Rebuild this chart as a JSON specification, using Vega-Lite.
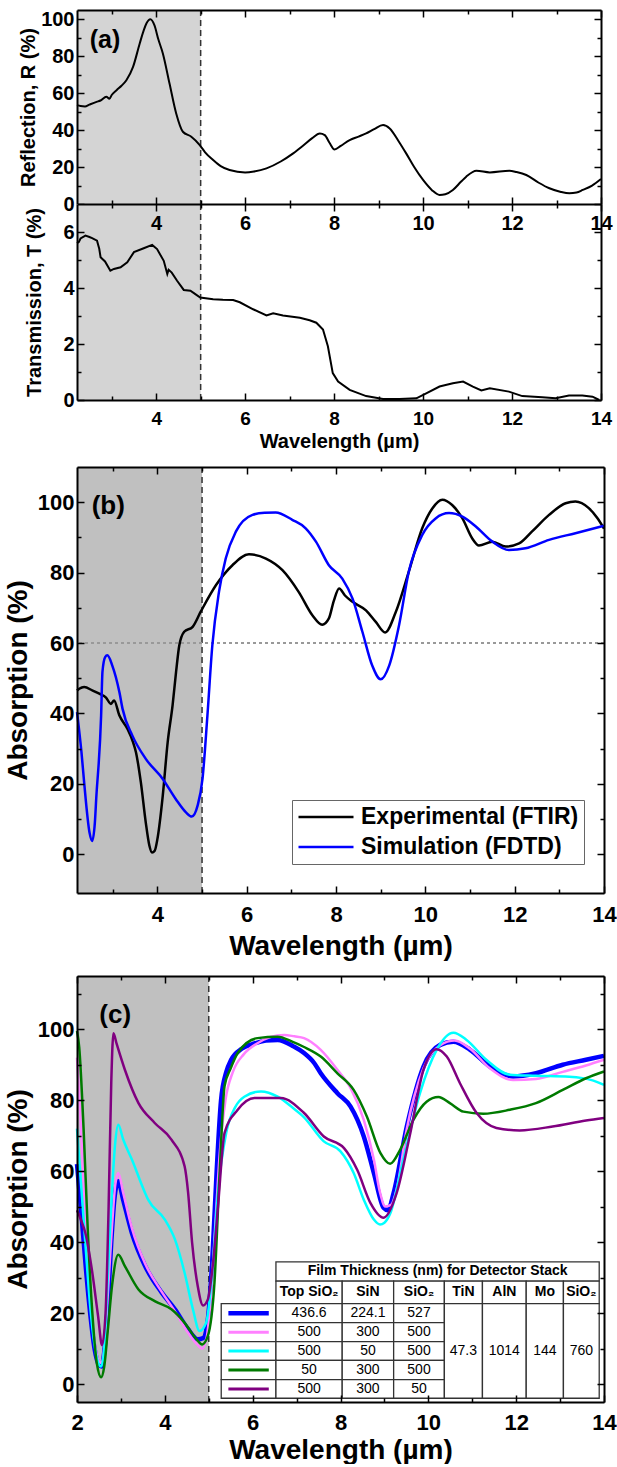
{
  "$schema": "https://vega.github.io/schema/vega-lite/v6.json",
  "background": "white",
  "padding": {"left": 4, "top": 9, "right": 0, "bottom": 0},
  "spacing": 15,
  "config": {
    "font": "Liberation Sans",
    "view": {"stroke": null},
    "axis": {"domain": true, "domainColor": "black", "domainWidth": 2, "tickColor": "black", "tickWidth": 1.5, "grid": false, "labelColor": "black", "labelFontWeight": "bold", "titleColor": "black", "titleFontWeight": "bold", "labelFlush": false, "labelOverlap": false}
  },
  "resolve": {"scale": {"color": "independent", "strokeWidth": "independent"}, "legend": {"color": "independent"}},
  "datasets": {
    "refl": [
      {"w":2.22,"v":53.5},{"w":2.3,"v":53},{"w":2.4,"v":52.8},{"w":2.5,"v":53.8},{"w":2.66,"v":55.3},{"w":2.75,"v":56},{"w":2.88,"v":58},{"w":2.95,"v":57},{"w":3.0,"v":59},{"w":3.11,"v":61.6},{"w":3.22,"v":64},{"w":3.33,"v":67},{"w":3.48,"v":74.2},{"w":3.63,"v":86.9},{"w":3.72,"v":94},{"w":3.78,"v":97.7},{"w":3.87,"v":100},{"w":3.96,"v":96.8},{"w":4.05,"v":89},{"w":4.15,"v":81.5},{"w":4.3,"v":65.2},{"w":4.45,"v":49},{"w":4.6,"v":39.1},{"w":4.79,"v":36.4},{"w":4.98,"v":31.9},{"w":5.1,"v":28},{"w":5.28,"v":23.8},{"w":5.45,"v":20.5},{"w":5.65,"v":18.4},{"w":6.0,"v":17.1},{"w":6.2,"v":17.6},{"w":6.48,"v":19.3},{"w":6.8,"v":23},{"w":7.08,"v":27.4},{"w":7.3,"v":31.5},{"w":7.5,"v":35.5},{"w":7.68,"v":38.2},{"w":7.79,"v":37.3},{"w":7.9,"v":33},{"w":8.01,"v":29.5},{"w":8.15,"v":31.5},{"w":8.35,"v":34.6},{"w":8.55,"v":36.5},{"w":8.72,"v":38.2},{"w":8.9,"v":40.5},{"w":9.1,"v":42.7},{"w":9.25,"v":40.9},{"w":9.45,"v":34},{"w":9.62,"v":27.4},{"w":9.8,"v":20},{"w":10.0,"v":13},{"w":10.2,"v":7.5},{"w":10.37,"v":4.9},{"w":10.5,"v":5.3},{"w":10.67,"v":7.6},{"w":10.85,"v":12},{"w":10.97,"v":14.8},{"w":11.2,"v":18},{"w":11.5,"v":17.1},{"w":11.94,"v":18},{"w":12.1,"v":17.3},{"w":12.32,"v":15.7},{"w":12.6,"v":11.5},{"w":12.84,"v":8.5},{"w":13.1,"v":6.5},{"w":13.29,"v":5.8},{"w":13.45,"v":6.2},{"w":13.59,"v":7.6},{"w":13.8,"v":10},{"w":14.0,"v":13.5}
    ],
    "trans": [
      {"w":2.22,"v":5.6},{"w":2.26,"v":5.64},{"w":2.3,"v":5.77},{"w":2.41,"v":5.87},{"w":2.5,"v":5.82},{"w":2.56,"v":5.78},{"w":2.67,"v":5.69},{"w":2.72,"v":5.4},{"w":2.75,"v":5.1},{"w":2.85,"v":4.95},{"w":2.97,"v":4.62},{"w":3.05,"v":4.68},{"w":3.2,"v":4.74},{"w":3.35,"v":4.92},{"w":3.5,"v":5.28},{"w":3.72,"v":5.42},{"w":3.91,"v":5.54},{"w":4.02,"v":5.39},{"w":4.17,"v":4.97},{"w":4.25,"v":4.5},{"w":4.28,"v":4.65},{"w":4.35,"v":4.55},{"w":4.47,"v":4.26},{"w":4.62,"v":3.93},{"w":4.77,"v":3.9},{"w":4.88,"v":3.78},{"w":4.99,"v":3.66},{"w":5.28,"v":3.6},{"w":5.5,"v":3.58},{"w":5.73,"v":3.57},{"w":5.88,"v":3.49},{"w":6.18,"v":3.24},{"w":6.48,"v":3.02},{"w":6.63,"v":3.1},{"w":6.85,"v":3.02},{"w":7.23,"v":2.94},{"w":7.45,"v":2.85},{"w":7.6,"v":2.76},{"w":7.75,"v":2.52},{"w":7.86,"v":1.92},{"w":7.97,"v":0.96},{"w":8.09,"v":0.66},{"w":8.35,"v":0.36},{"w":8.72,"v":0.14},{"w":9.1,"v":0.04},{"w":9.47,"v":0.04},{"w":9.85,"v":0.06},{"w":10.07,"v":0.24},{"w":10.37,"v":0.48},{"w":10.67,"v":0.6},{"w":10.9,"v":0.66},{"w":11.12,"v":0.48},{"w":11.31,"v":0.34},{"w":11.5,"v":0.42},{"w":11.93,"v":0.3},{"w":12.23,"v":0.14},{"w":12.68,"v":0.1},{"w":12.98,"v":0.06},{"w":13.28,"v":0.16},{"w":13.58,"v":0.16},{"w":13.81,"v":0.12},{"w":13.96,"v":0.0}
    ],
    "absb": [
      {"s":"Experimental (FTIR)","w":2.2,"v":46.5},{"s":"Experimental (FTIR)","w":2.25,"v":47},{"s":"Experimental (FTIR)","w":2.36,"v":47.5},{"s":"Experimental (FTIR)","w":2.55,"v":46.5},{"s":"Experimental (FTIR)","w":2.7,"v":45.6},{"s":"Experimental (FTIR)","w":2.85,"v":44.5},{"s":"Experimental (FTIR)","w":2.96,"v":42.7},{"s":"Experimental (FTIR)","w":3.03,"v":43.7},{"s":"Experimental (FTIR)","w":3.15,"v":39.4},{"s":"Experimental (FTIR)","w":3.33,"v":35.6},{"s":"Experimental (FTIR)","w":3.45,"v":32},{"s":"Experimental (FTIR)","w":3.52,"v":29},{"s":"Experimental (FTIR)","w":3.63,"v":20.4},{"s":"Experimental (FTIR)","w":3.74,"v":9},{"s":"Experimental (FTIR)","w":3.82,"v":2.5},{"s":"Experimental (FTIR)","w":3.88,"v":0.5},{"s":"Experimental (FTIR)","w":3.94,"v":1},{"s":"Experimental (FTIR)","w":4.0,"v":4.3},{"s":"Experimental (FTIR)","w":4.12,"v":16.6},{"s":"Experimental (FTIR)","w":4.23,"v":31.8},{"s":"Experimental (FTIR)","w":4.34,"v":42.3},{"s":"Experimental (FTIR)","w":4.42,"v":52},{"s":"Experimental (FTIR)","w":4.49,"v":59.3},{"s":"Experimental (FTIR)","w":4.6,"v":63.2},{"s":"Experimental (FTIR)","w":4.79,"v":64.6},{"s":"Experimental (FTIR)","w":4.97,"v":68.9},{"s":"Experimental (FTIR)","w":5.31,"v":76.4},{"s":"Experimental (FTIR)","w":5.68,"v":82.1},{"s":"Experimental (FTIR)","w":6.05,"v":85.2},{"s":"Experimental (FTIR)","w":6.43,"v":84},{"s":"Experimental (FTIR)","w":6.8,"v":80.7},{"s":"Experimental (FTIR)","w":7.17,"v":74.4},{"s":"Experimental (FTIR)","w":7.47,"v":67.9},{"s":"Experimental (FTIR)","w":7.69,"v":65.2},{"s":"Experimental (FTIR)","w":7.84,"v":67},{"s":"Experimental (FTIR)","w":7.95,"v":72},{"s":"Experimental (FTIR)","w":8.07,"v":75.5},{"s":"Experimental (FTIR)","w":8.2,"v":73.5},{"s":"Experimental (FTIR)","w":8.37,"v":71.7},{"s":"Experimental (FTIR)","w":8.67,"v":69.3},{"s":"Experimental (FTIR)","w":8.89,"v":66},{"s":"Experimental (FTIR)","w":9.1,"v":63},{"s":"Experimental (FTIR)","w":9.34,"v":68.9},{"s":"Experimental (FTIR)","w":9.63,"v":80.3},{"s":"Experimental (FTIR)","w":9.93,"v":92.6},{"s":"Experimental (FTIR)","w":10.16,"v":98.3},{"s":"Experimental (FTIR)","w":10.38,"v":100.7},{"s":"Experimental (FTIR)","w":10.6,"v":99.2},{"s":"Experimental (FTIR)","w":10.83,"v":95.4},{"s":"Experimental (FTIR)","w":11.05,"v":89.7},{"s":"Experimental (FTIR)","w":11.2,"v":87.7},{"s":"Experimental (FTIR)","w":11.5,"v":88.8},{"s":"Experimental (FTIR)","w":11.8,"v":87.4},{"s":"Experimental (FTIR)","w":12.1,"v":88.3},{"s":"Experimental (FTIR)","w":12.39,"v":91.7},{"s":"Experimental (FTIR)","w":12.77,"v":96.4},{"s":"Experimental (FTIR)","w":13.14,"v":99.7},{"s":"Experimental (FTIR)","w":13.36,"v":100.2},{"s":"Experimental (FTIR)","w":13.66,"v":98.3},{"s":"Experimental (FTIR)","w":13.85,"v":95.5},{"s":"Experimental (FTIR)","w":14.0,"v":92.5},
      {"s":"Simulation (FDTD)","w":2.2,"v":40.4},{"s":"Simulation (FDTD)","w":2.3,"v":29},{"s":"Simulation (FDTD)","w":2.36,"v":20.4},{"s":"Simulation (FDTD)","w":2.48,"v":6.2},{"s":"Simulation (FDTD)","w":2.54,"v":3.8},{"s":"Simulation (FDTD)","w":2.6,"v":9},{"s":"Simulation (FDTD)","w":2.63,"v":15.7},{"s":"Simulation (FDTD)","w":2.74,"v":39.4},{"s":"Simulation (FDTD)","w":2.77,"v":51.8},{"s":"Simulation (FDTD)","w":2.83,"v":56},{"s":"Simulation (FDTD)","w":2.88,"v":56.5},{"s":"Simulation (FDTD)","w":2.99,"v":53.6},{"s":"Simulation (FDTD)","w":3.15,"v":46},{"s":"Simulation (FDTD)","w":3.22,"v":41.3},{"s":"Simulation (FDTD)","w":3.44,"v":33.7},{"s":"Simulation (FDTD)","w":3.74,"v":27.1},{"s":"Simulation (FDTD)","w":4.12,"v":21.4},{"s":"Simulation (FDTD)","w":4.41,"v":15.7},{"s":"Simulation (FDTD)","w":4.64,"v":11.9},{"s":"Simulation (FDTD)","w":4.77,"v":10.7},{"s":"Simulation (FDTD)","w":4.9,"v":13.8},{"s":"Simulation (FDTD)","w":5.01,"v":21.4},{"s":"Simulation (FDTD)","w":5.12,"v":39.4},{"s":"Simulation (FDTD)","w":5.23,"v":59.3},{"s":"Simulation (FDTD)","w":5.38,"v":74.6},{"s":"Simulation (FDTD)","w":5.53,"v":84},{"s":"Simulation (FDTD)","w":5.76,"v":91.7},{"s":"Simulation (FDTD)","w":6.13,"v":96.4},{"s":"Simulation (FDTD)","w":6.4,"v":97},{"s":"Simulation (FDTD)","w":6.65,"v":97.1},{"s":"Simulation (FDTD)","w":7.02,"v":95},{"s":"Simulation (FDTD)","w":7.32,"v":92.6},{"s":"Simulation (FDTD)","w":7.55,"v":88.8},{"s":"Simulation (FDTD)","w":7.84,"v":82.1},{"s":"Simulation (FDTD)","w":8.14,"v":78.3},{"s":"Simulation (FDTD)","w":8.37,"v":72.6},{"s":"Simulation (FDTD)","w":8.59,"v":63.2},{"s":"Simulation (FDTD)","w":8.81,"v":53.6},{"s":"Simulation (FDTD)","w":9.0,"v":49.7},{"s":"Simulation (FDTD)","w":9.19,"v":53.6},{"s":"Simulation (FDTD)","w":9.41,"v":65},{"s":"Simulation (FDTD)","w":9.63,"v":80.3},{"s":"Simulation (FDTD)","w":9.93,"v":90.7},{"s":"Simulation (FDTD)","w":10.23,"v":95.4},{"s":"Simulation (FDTD)","w":10.53,"v":96.9},{"s":"Simulation (FDTD)","w":10.83,"v":95.9},{"s":"Simulation (FDTD)","w":11.13,"v":93.1},{"s":"Simulation (FDTD)","w":11.5,"v":88.8},{"s":"Simulation (FDTD)","w":11.87,"v":86.4},{"s":"Simulation (FDTD)","w":12.24,"v":86.9},{"s":"Simulation (FDTD)","w":12.77,"v":89.3},{"s":"Simulation (FDTD)","w":13.36,"v":91.2},{"s":"Simulation (FDTD)","w":14.0,"v":93.3}
    ],
    "absc": [
      {"s":"436.6/224.1/527","w":2.0,"v":62},{"s":"436.6/224.1/527","w":2.1,"v":48},{"s":"436.6/224.1/527","w":2.2,"v":33},{"s":"436.6/224.1/527","w":2.3,"v":20},{"s":"436.6/224.1/527","w":2.4,"v":10},{"s":"436.6/224.1/527","w":2.5,"v":5.5},{"s":"436.6/224.1/527","w":2.56,"v":5},{"s":"436.6/224.1/527","w":2.62,"v":9},{"s":"436.6/224.1/527","w":2.7,"v":22},{"s":"436.6/224.1/527","w":2.78,"v":40},{"s":"436.6/224.1/527","w":2.85,"v":52},{"s":"436.6/224.1/527","w":2.94,"v":57.2},{"s":"436.6/224.1/527","w":3.05,"v":52},{"s":"436.6/224.1/527","w":3.25,"v":42.6},{"s":"436.6/224.1/527","w":3.55,"v":33.3},{"s":"436.6/224.1/527","w":3.93,"v":25.8},{"s":"436.6/224.1/527","w":4.23,"v":21.1},{"s":"436.6/224.1/527","w":4.53,"v":15.5},{"s":"436.6/224.1/527","w":4.75,"v":12.7},{"s":"436.6/224.1/527","w":4.87,"v":13},{"s":"436.6/224.1/527","w":4.98,"v":18.3},{"s":"436.6/224.1/527","w":5.08,"v":35},{"s":"436.6/224.1/527","w":5.18,"v":60},{"s":"436.6/224.1/527","w":5.28,"v":80},{"s":"436.6/224.1/527","w":5.4,"v":88},{"s":"436.6/224.1/527","w":5.51,"v":91.4},{"s":"436.6/224.1/527","w":5.75,"v":94.5},{"s":"436.6/224.1/527","w":6.04,"v":96},{"s":"436.6/224.1/527","w":6.3,"v":96.8},{"s":"436.6/224.1/527","w":6.57,"v":97},{"s":"436.6/224.1/527","w":6.94,"v":95.1},{"s":"436.6/224.1/527","w":7.17,"v":93.3},{"s":"436.6/224.1/527","w":7.4,"v":90.5},{"s":"436.6/224.1/527","w":7.55,"v":87.6},{"s":"436.6/224.1/527","w":7.93,"v":82},{"s":"436.6/224.1/527","w":8.23,"v":78.2},{"s":"436.6/224.1/527","w":8.53,"v":69.8},{"s":"436.6/224.1/527","w":8.76,"v":59.5},{"s":"436.6/224.1/527","w":8.98,"v":49.7},{"s":"436.6/224.1/527","w":9.08,"v":49},{"s":"436.6/224.1/527","w":9.21,"v":53.9},{"s":"436.6/224.1/527","w":9.51,"v":72.6},{"s":"436.6/224.1/527","w":9.89,"v":89.5},{"s":"436.6/224.1/527","w":10.27,"v":95.6},{"s":"436.6/224.1/527","w":10.57,"v":96.5},{"s":"436.6/224.1/527","w":10.95,"v":94.2},{"s":"436.6/224.1/527","w":11.4,"v":89.5},{"s":"436.6/224.1/527","w":11.93,"v":86.7},{"s":"436.6/224.1/527","w":12.45,"v":87.6},{"s":"436.6/224.1/527","w":13.06,"v":90},{"s":"436.6/224.1/527","w":13.59,"v":91.4},{"s":"436.6/224.1/527","w":14.0,"v":92.5},
      {"s":"500/300/500","w":2.0,"v":92},{"s":"500/300/500","w":2.1,"v":70},{"s":"500/300/500","w":2.2,"v":45},{"s":"500/300/500","w":2.3,"v":25},{"s":"500/300/500","w":2.4,"v":12},{"s":"500/300/500","w":2.5,"v":6.5},{"s":"500/300/500","w":2.56,"v":6},{"s":"500/300/500","w":2.62,"v":10},{"s":"500/300/500","w":2.7,"v":25},{"s":"500/300/500","w":2.8,"v":45},{"s":"500/300/500","w":2.87,"v":56},{"s":"500/300/500","w":2.94,"v":59.5},{"s":"500/300/500","w":3.05,"v":54},{"s":"500/300/500","w":3.25,"v":44},{"s":"500/300/500","w":3.55,"v":34},{"s":"500/300/500","w":3.93,"v":26},{"s":"500/300/500","w":4.23,"v":20.5},{"s":"500/300/500","w":4.53,"v":14.5},{"s":"500/300/500","w":4.75,"v":11},{"s":"500/300/500","w":4.85,"v":10},{"s":"500/300/500","w":4.95,"v":13},{"s":"500/300/500","w":5.05,"v":25},{"s":"500/300/500","w":5.15,"v":45},{"s":"500/300/500","w":5.25,"v":65},{"s":"500/300/500","w":5.38,"v":80},{"s":"500/300/500","w":5.55,"v":88},{"s":"500/300/500","w":5.8,"v":93},{"s":"500/300/500","w":6.1,"v":96},{"s":"500/300/500","w":6.4,"v":97.8},{"s":"500/300/500","w":6.72,"v":98.4},{"s":"500/300/500","w":6.95,"v":98},{"s":"500/300/500","w":7.17,"v":97.5},{"s":"500/300/500","w":7.55,"v":94.2},{"s":"500/300/500","w":7.93,"v":88.6},{"s":"500/300/500","w":8.23,"v":83.4},{"s":"500/300/500","w":8.53,"v":74.5},{"s":"500/300/500","w":8.76,"v":63.3},{"s":"500/300/500","w":8.9,"v":54},{"s":"500/300/500","w":9.02,"v":50.1},{"s":"500/300/500","w":9.15,"v":50.5},{"s":"500/300/500","w":9.28,"v":55},{"s":"500/300/500","w":9.51,"v":72},{"s":"500/300/500","w":9.89,"v":89},{"s":"500/300/500","w":10.27,"v":95.5},{"s":"500/300/500","w":10.6,"v":96.8},{"s":"500/300/500","w":10.95,"v":94.5},{"s":"500/300/500","w":11.4,"v":89},{"s":"500/300/500","w":11.93,"v":85.7},{"s":"500/300/500","w":12.45,"v":86},{"s":"500/300/500","w":13.06,"v":88},{"s":"500/300/500","w":13.59,"v":89.8},{"s":"500/300/500","w":14.0,"v":91.4},
      {"s":"500/50/500","w":2.0,"v":72},{"s":"500/50/500","w":2.1,"v":55},{"s":"500/50/500","w":2.2,"v":38},{"s":"500/50/500","w":2.3,"v":22},{"s":"500/50/500","w":2.4,"v":11},{"s":"500/50/500","w":2.5,"v":5.5},{"s":"500/50/500","w":2.55,"v":5},{"s":"500/50/500","w":2.62,"v":10},{"s":"500/50/500","w":2.7,"v":30},{"s":"500/50/500","w":2.8,"v":55},{"s":"500/50/500","w":2.87,"v":68},{"s":"500/50/500","w":2.94,"v":73.1},{"s":"500/50/500","w":3.05,"v":69},{"s":"500/50/500","w":3.25,"v":63.3},{"s":"500/50/500","w":3.55,"v":53.9},{"s":"500/50/500","w":3.62,"v":52},{"s":"500/50/500","w":4.0,"v":46.4},{"s":"500/50/500","w":4.23,"v":40.8},{"s":"500/50/500","w":4.45,"v":31.4},{"s":"500/50/500","w":4.64,"v":21.1},{"s":"500/50/500","w":4.79,"v":15},{"s":"500/50/500","w":4.94,"v":17.3},{"s":"500/50/500","w":5.09,"v":33},{"s":"500/50/500","w":5.21,"v":54},{"s":"500/50/500","w":5.4,"v":71},{"s":"500/50/500","w":5.6,"v":78},{"s":"500/50/500","w":5.81,"v":81},{"s":"500/50/500","w":6.19,"v":82.5},{"s":"500/50/500","w":6.57,"v":81},{"s":"500/50/500","w":6.9,"v":78},{"s":"500/50/500","w":7.17,"v":75.2},{"s":"500/50/500","w":7.62,"v":68.4},{"s":"500/50/500","w":8.0,"v":65.6},{"s":"500/50/500","w":8.3,"v":59.5},{"s":"500/50/500","w":8.53,"v":52},{"s":"500/50/500","w":8.76,"v":46.4},{"s":"500/50/500","w":8.9,"v":45},{"s":"500/50/500","w":9.0,"v":45.5},{"s":"500/50/500","w":9.13,"v":48},{"s":"500/50/500","w":9.43,"v":63.3},{"s":"500/50/500","w":9.81,"v":82},{"s":"500/50/500","w":10.19,"v":94.2},{"s":"500/50/500","w":10.57,"v":99},{"s":"500/50/500","w":10.87,"v":97},{"s":"500/50/500","w":11.32,"v":91.4},{"s":"500/50/500","w":11.85,"v":87.2},{"s":"500/50/500","w":12.45,"v":86.9},{"s":"500/50/500","w":13.21,"v":86.6},{"s":"500/50/500","w":13.74,"v":85.6},{"s":"500/50/500","w":14.0,"v":84.3},
      {"s":"50/300/500","w":2.0,"v":99.5},{"s":"50/300/500","w":2.05,"v":95},{"s":"50/300/500","w":2.15,"v":72},{"s":"50/300/500","w":2.25,"v":42},{"s":"50/300/500","w":2.35,"v":20},{"s":"50/300/500","w":2.45,"v":6},{"s":"50/300/500","w":2.55,"v":2},{"s":"50/300/500","w":2.62,"v":5},{"s":"50/300/500","w":2.7,"v":15},{"s":"50/300/500","w":2.8,"v":28},{"s":"50/300/500","w":2.94,"v":36.5},{"s":"50/300/500","w":3.09,"v":33.3},{"s":"50/300/500","w":3.4,"v":26.7},{"s":"50/300/500","w":3.77,"v":23.4},{"s":"50/300/500","w":4.15,"v":21.1},{"s":"50/300/500","w":4.45,"v":17.3},{"s":"50/300/500","w":4.72,"v":12.7},{"s":"50/300/500","w":4.85,"v":11.2},{"s":"50/300/500","w":4.98,"v":13.6},{"s":"50/300/500","w":5.13,"v":28.6},{"s":"50/300/500","w":5.25,"v":60},{"s":"50/300/500","w":5.36,"v":84},{"s":"50/300/500","w":5.5,"v":89},{"s":"50/300/500","w":5.66,"v":93.3},{"s":"50/300/500","w":6.11,"v":97.5},{"s":"50/300/500","w":6.57,"v":97.9},{"s":"50/300/500","w":6.9,"v":96.5},{"s":"50/300/500","w":7.17,"v":95},{"s":"50/300/500","w":7.55,"v":92.3},{"s":"50/300/500","w":7.93,"v":87.6},{"s":"50/300/500","w":8.3,"v":82.9},{"s":"50/300/500","w":8.6,"v":75.4},{"s":"50/300/500","w":8.91,"v":65.1},{"s":"50/300/500","w":9.13,"v":62.1},{"s":"50/300/500","w":9.36,"v":66.1},{"s":"50/300/500","w":9.66,"v":74.5},{"s":"50/300/500","w":9.96,"v":79.6},{"s":"50/300/500","w":10.23,"v":80.9},{"s":"50/300/500","w":10.49,"v":79.2},{"s":"50/300/500","w":10.8,"v":76.8},{"s":"50/300/500","w":11.25,"v":76.2},{"s":"50/300/500","w":11.85,"v":77.3},{"s":"50/300/500","w":12.45,"v":79.2},{"s":"50/300/500","w":13.06,"v":82.9},{"s":"50/300/500","w":13.59,"v":86.2},{"s":"50/300/500","w":14.0,"v":88.1},
      {"s":"500/300/50","w":2.0,"v":49},{"s":"500/300/50","w":2.1,"v":46},{"s":"500/300/50","w":2.19,"v":42.6},{"s":"500/300/50","w":2.33,"v":33},{"s":"500/300/50","w":2.48,"v":19.2},{"s":"500/300/50","w":2.57,"v":11},{"s":"500/300/50","w":2.65,"v":20},{"s":"500/300/50","w":2.72,"v":50},{"s":"500/300/50","w":2.78,"v":85},{"s":"500/300/50","w":2.83,"v":98.9},{"s":"500/300/50","w":2.9,"v":96},{"s":"500/300/50","w":3.09,"v":88.6},{"s":"500/300/50","w":3.4,"v":79.2},{"s":"500/300/50","w":3.77,"v":73.6},{"s":"500/300/50","w":4.15,"v":68.9},{"s":"500/300/50","w":4.45,"v":61.4},{"s":"500/300/50","w":4.53,"v":54},{"s":"500/300/50","w":4.62,"v":40},{"s":"500/300/50","w":4.75,"v":27.6},{"s":"500/300/50","w":4.87,"v":22.2},{"s":"500/300/50","w":4.98,"v":23.9},{"s":"500/300/50","w":5.09,"v":33.3},{"s":"500/300/50","w":5.21,"v":50},{"s":"500/300/50","w":5.36,"v":70.8},{"s":"500/300/50","w":5.66,"v":77.3},{"s":"500/300/50","w":6.04,"v":80.6},{"s":"500/300/50","w":6.64,"v":80.6},{"s":"500/300/50","w":7.17,"v":76.4},{"s":"500/300/50","w":7.62,"v":69.8},{"s":"500/300/50","w":8.08,"v":66.5},{"s":"500/300/50","w":8.38,"v":60.4},{"s":"500/300/50","w":8.68,"v":51.1},{"s":"500/300/50","w":8.98,"v":46.9},{"s":"500/300/50","w":9.28,"v":53.9},{"s":"500/300/50","w":9.59,"v":70.8},{"s":"500/300/50","w":9.89,"v":88.6},{"s":"500/300/50","w":10.19,"v":94.4},{"s":"500/300/50","w":10.42,"v":92.3},{"s":"500/300/50","w":10.72,"v":84.8},{"s":"500/300/50","w":11.1,"v":76.4},{"s":"500/300/50","w":11.55,"v":72.2},{"s":"500/300/50","w":12.08,"v":71.5},{"s":"500/300/50","w":12.83,"v":72.6},{"s":"500/300/50","w":13.59,"v":74.3},{"s":"500/300/50","w":14.0,"v":75}
    ],
    "tbl": [
      {"x1":6.53,"x2":13.891,"y1":29.04,"y2":34.5,"t":"Film Thickness (nm) for Detector Stack","k":"h"},
      {"x1":6.53,"x2":8.039,"y1":22.69,"y2":29.04,"t":"Top SiO₂","k":"h"},
      {"x1":8.039,"x2":9.21,"y1":22.69,"y2":29.04,"t":"SiN","k":"h"},
      {"x1":9.21,"x2":10.365,"y1":22.69,"y2":29.04,"t":"SiO₂","k":"h"},
      {"x1":10.365,"x2":11.232,"y1":22.69,"y2":29.04,"t":"TiN","k":"h"},
      {"x1":11.232,"x2":12.229,"y1":22.69,"y2":29.04,"t":"AlN","k":"h"},
      {"x1":12.229,"x2":13.076,"y1":22.69,"y2":29.04,"t":"Mo","k":"h"},
      {"x1":13.076,"x2":13.891,"y1":22.69,"y2":29.04,"t":"SiO₂","k":"h"},
      {"x1":5.284,"x2":6.53,"y1":17.35,"y2":22.69,"t":"","k":"sym","s":"436.6/224.1/527"},
      {"x1":6.53,"x2":8.039,"y1":17.35,"y2":22.69,"t":"436.6","k":"v"},
      {"x1":8.039,"x2":9.21,"y1":17.35,"y2":22.69,"t":"224.1","k":"v"},
      {"x1":9.21,"x2":10.365,"y1":17.35,"y2":22.69,"t":"527","k":"v"},
      {"x1":5.284,"x2":6.53,"y1":12.0,"y2":17.35,"t":"","k":"sym","s":"500/300/500"},
      {"x1":6.53,"x2":8.039,"y1":12.0,"y2":17.35,"t":"500","k":"v"},
      {"x1":8.039,"x2":9.21,"y1":12.0,"y2":17.35,"t":"300","k":"v"},
      {"x1":9.21,"x2":10.365,"y1":12.0,"y2":17.35,"t":"500","k":"v"},
      {"x1":5.284,"x2":6.53,"y1":6.75,"y2":12.0,"t":"","k":"sym","s":"500/50/500"},
      {"x1":6.53,"x2":8.039,"y1":6.75,"y2":12.0,"t":"500","k":"v"},
      {"x1":8.039,"x2":9.21,"y1":6.75,"y2":12.0,"t":"50","k":"v"},
      {"x1":9.21,"x2":10.365,"y1":6.75,"y2":12.0,"t":"500","k":"v"},
      {"x1":5.284,"x2":6.53,"y1":1.32,"y2":6.75,"t":"","k":"sym","s":"50/300/500"},
      {"x1":6.53,"x2":8.039,"y1":1.32,"y2":6.75,"t":"50","k":"v"},
      {"x1":8.039,"x2":9.21,"y1":1.32,"y2":6.75,"t":"300","k":"v"},
      {"x1":9.21,"x2":10.365,"y1":1.32,"y2":6.75,"t":"500","k":"v"},
      {"x1":5.284,"x2":6.53,"y1":-3.94,"y2":1.32,"t":"","k":"sym","s":"500/300/50"},
      {"x1":6.53,"x2":8.039,"y1":-3.94,"y2":1.32,"t":"500","k":"v"},
      {"x1":8.039,"x2":9.21,"y1":-3.94,"y2":1.32,"t":"300","k":"v"},
      {"x1":9.21,"x2":10.365,"y1":-3.94,"y2":1.32,"t":"50","k":"v"},
      {"x1":10.365,"x2":11.232,"y1":-3.94,"y2":22.69,"t":"47.3","k":"v"},
      {"x1":11.232,"x2":12.229,"y1":-3.94,"y2":22.69,"t":"1014","k":"v"},
      {"x1":12.229,"x2":13.076,"y1":-3.94,"y2":22.69,"t":"144","k":"v"},
      {"x1":13.076,"x2":13.891,"y1":-3.94,"y2":22.69,"t":"760","k":"v"}
    ]
  },
  "vconcat": [
    {
      "spacing": 0,
      "bounds": "flush",
      "vconcat": [
        {
          "width": 524, "height": 194,
          "resolve": {"axis": {"x": "independent", "y": "independent"}},
          "layer": [
            {"data": {"values": [{}]}, "mark": {"type": "rect", "color": "#d4d4d4"},
             "encoding": {
               "x": {"datum": 2.22, "type": "quantitative", "scale": {"domain": [2.22, 14], "nice": false, "zero": false},
                     "axis": {"orient": "bottom", "zindex": 1, "domain": false, "values": [3,4,5,6,7,8,9,10,11,12,13,14], "labels": false, "title": null, "tickSize": {"condition": {"test": "datum.value % 2 === 0", "value": -7}, "value": -4}}},
               "x2": {"datum": 5}}},
            {"data": {"values": [{}]}, "mark": {"type": "rule", "color": "#333333", "strokeDash": [6, 4], "strokeWidth": 1.5},
             "encoding": {"x": {"datum": 5, "type": "quantitative", "axis": null}}},
            {"data": {"name": "refl"}, "mark": {"type": "line", "color": "black", "strokeWidth": 2, "interpolate": "monotone"},
             "encoding": {
               "x": {"field": "w", "type": "quantitative", "axis": {"orient": "top", "zindex": 1, "values": [3,4,5,6,7,8,9,10,11,12,13,14], "labels": false, "title": null, "tickSize": {"condition": {"test": "datum.value % 2 === 0", "value": -7}, "value": -4}}},
               "y": {"field": "v", "type": "quantitative", "scale": {"domain": [0, 105], "nice": false, "zero": false},
                     "axis": {"orient": "left", "zindex": 1, "values": [0,10,20,30,40,50,60,70,80,90,100], "labelExpr": "datum.value % 20 === 0 ? datum.label : ''", "tickSize": {"condition": {"test": "datum.value % 20 === 0", "value": -7}, "value": -4}, "labelPadding": 10, "labelFontSize": 20, "title": "Reflection, R (%)", "titleFontSize": 20, "titlePadding": 2}}}},
            {"data": {"values": [{}]}, "mark": {"type": "text", "text": "(a)", "fontSize": 25, "fontWeight": "bold", "align": "center", "baseline": "middle", "color": "black"},
             "encoding": {
               "x": {"datum": 2.85, "type": "quantitative", "axis": null},
               "y": {"datum": 89, "type": "quantitative", "axis": {"orient": "right", "zindex": 1, "values": [0,10,20,30,40,50,60,70,80,90,100], "labels": false, "title": null, "tickSize": {"condition": {"test": "datum.value % 20 === 0", "value": -7}, "value": -4}}}}}
          ]
        },
        {
          "width": 524, "height": 196,
          "resolve": {"axis": {"x": "independent", "y": "independent"}},
          "layer": [
            {"data": {"values": [{}]}, "mark": {"type": "rect", "color": "#d4d4d4"},
             "encoding": {
               "x": {"datum": 2.22, "type": "quantitative", "scale": {"domain": [2.22, 14], "nice": false, "zero": false},
                     "axis": {"orient": "bottom", "zindex": 1, "values": [3,4,5,6,7,8,9,10,11,12,13,14], "labelExpr": "datum.value % 2 === 0 ? datum.label : ''", "tickSize": {"condition": {"test": "datum.value % 2 === 0", "value": -7}, "value": -4}, "labelPadding": 16, "labelBaseline": "top", "labelFontSize": 19, "title": "Wavelength (µm)", "titleFontSize": 20, "titlePadding": 0}},
               "x2": {"datum": 5}}},
            {"data": {"values": [{}]}, "mark": {"type": "rule", "color": "#333333", "strokeDash": [6, 4], "strokeWidth": 1.5},
             "encoding": {"x": {"datum": 5, "type": "quantitative", "axis": null}}},
            {"data": {"name": "trans"}, "mark": {"type": "line", "color": "black", "strokeWidth": 2},
             "encoding": {
               "x": {"field": "w", "type": "quantitative", "axis": {"orient": "top", "zindex": 1, "values": [3,4,5,6,7,8,9,10,11,12,13,14], "labelExpr": "datum.value % 2 === 0 ? datum.label : ''", "labelBaseline": "middle", "labelPadding": -12, "labelFontSize": 20, "title": null, "tickSize": {"condition": {"test": "datum.value % 2 === 0", "value": -7}, "value": -4}}},
               "y": {"field": "v", "type": "quantitative", "scale": {"domain": [0, 7], "nice": false, "zero": false},
                     "axis": {"orient": "left", "zindex": 1, "values": [0,1,2,3,4,5,6], "labelExpr": "datum.value % 2 === 0 ? datum.label : ''", "tickSize": {"condition": {"test": "datum.value % 2 === 0", "value": -7}, "value": -4}, "labelPadding": 10, "labelFontSize": 20, "title": "Transmission, T (%)", "titleFontSize": 20, "titlePadding": 18}}}},
            {"data": {"values": [{}]}, "mark": {"type": "rule", "opacity": 0},
             "encoding": {
               "y": {"datum": 3, "type": "quantitative", "axis": {"orient": "right", "zindex": 1, "values": [0,1,2,3,4,5,6], "labels": false, "title": null, "tickSize": {"condition": {"test": "datum.value % 2 === 0", "value": -7}, "value": -4}}}}}
          ]
        }
      ]
    },
    {
      "width": 527, "height": 426,
      "resolve": {"axis": {"x": "independent", "y": "independent"}},
      "layer": [
        {"data": {"values": [{}]}, "mark": {"type": "rect", "color": "#c0c0c0"},
         "encoding": {
           "x": {"datum": 2.2, "type": "quantitative", "scale": {"domain": [2.2, 14], "nice": false, "zero": false},
                 "axis": {"orient": "bottom", "zindex": 1, "values": [3,4,5,6,7,8,9,10,11,12,13,14], "labelExpr": "datum.value % 2 === 0 ? datum.label : ''", "tickSize": {"condition": {"test": "datum.value % 2 === 0", "value": -7}, "value": -4}, "labelPadding": 18, "labelBaseline": "top", "labelFontSize": 22, "title": "Wavelength (µm)", "titleFontSize": 28, "titlePadding": 4}},
           "x2": {"datum": 5}}},
        {"data": {"values": [{}]}, "mark": {"type": "rule", "color": "#333333", "strokeDash": [6, 4], "strokeWidth": 1.5},
         "encoding": {"x": {"datum": 5, "type": "quantitative", "axis": null}}},
        {"data": {"values": [{}]}, "mark": {"type": "rule", "color": "#999999", "strokeDash": [3, 3], "strokeWidth": 2},
         "encoding": {"y": {"datum": 60, "type": "quantitative", "axis": null}}},
        {"data": {"name": "absb"}, "mark": {"type": "line", "strokeWidth": 2.5, "interpolate": "monotone"},
         "encoding": {
           "x": {"field": "w", "type": "quantitative", "axis": {"orient": "top", "zindex": 1, "values": [3,4,5,6,7,8,9,10,11,12,13,14], "labels": false, "title": null, "tickSize": {"condition": {"test": "datum.value % 2 === 0", "value": -7}, "value": -4}}},
           "y": {"field": "v", "type": "quantitative", "scale": {"domain": [-11, 110], "nice": false, "zero": false},
                 "axis": {"orient": "left", "zindex": 1, "values": [0,10,20,30,40,50,60,70,80,90,100], "labelExpr": "datum.value % 20 === 0 ? datum.label : ''", "tickSize": {"condition": {"test": "datum.value % 20 === 0", "value": -7}, "value": -4}, "labelPadding": 10, "labelFontSize": 22, "title": "Absorption (%)", "titleFontSize": 28, "titlePadding": 5}},
           "color": {"field": "s", "type": "nominal", "scale": {"domain": ["Experimental (FTIR)", "Simulation (FDTD)"], "range": ["#000000", "#0000ff"]},
                     "legend": {"orient": "none", "legendX": 215, "legendY": 333, "title": null, "symbolType": "stroke", "symbolSize": 3025, "symbolStrokeWidth": 2.5, "clipHeight": 24, "rowPadding": 6, "labelFontSize": 23, "labelFontWeight": "bold", "labelColor": "black", "labelOffset": 6, "labelLimit": 400, "padding": 5, "strokeColor": "#666666", "fillColor": "white"}}}},
        {"data": {"values": [{}]}, "mark": {"type": "text", "text": "(b)", "fontSize": 26, "fontWeight": "bold", "align": "center", "baseline": "middle", "color": "black"},
         "encoding": {
           "x": {"datum": 2.9, "type": "quantitative", "axis": null},
           "y": {"datum": 99, "type": "quantitative", "axis": {"orient": "right", "zindex": 1, "values": [0,10,20,30,40,50,60,70,80,90,100], "labels": false, "title": null, "tickSize": {"condition": {"test": "datum.value % 20 === 0", "value": -7}, "value": -4}}}}}
      ]
    },
    {
      "width": 527, "height": 426,
      "resolve": {"axis": {"x": "independent", "y": "independent"}},
      "layer": [
        {"data": {"values": [{}]}, "mark": {"type": "rect", "color": "#c0c0c0"},
         "encoding": {
           "x": {"datum": 2, "type": "quantitative", "scale": {"domain": [2, 14], "nice": false, "zero": false},
                 "axis": {"orient": "bottom", "zindex": 1, "values": [2,3,4,5,6,7,8,9,10,11,12,13,14], "labelExpr": "datum.value % 2 === 0 ? datum.label : ''", "tickSize": {"condition": {"test": "datum.value % 2 === 0", "value": -7}, "value": -4}, "labelPadding": 17, "labelBaseline": "top", "labelFontSize": 22, "title": "Wavelength (µm)", "titleFontSize": 28, "titlePadding": 0}},
           "x2": {"datum": 5}}},
        {"data": {"values": [{}]}, "mark": {"type": "rule", "color": "#333333", "strokeDash": [6, 4], "strokeWidth": 1.5},
         "encoding": {"x": {"datum": 5, "type": "quantitative", "axis": null}}},
        {"data": {"name": "absc"}, "mark": {"type": "line", "interpolate": "monotone"},
         "encoding": {
           "x": {"field": "w", "type": "quantitative", "axis": {"orient": "top", "zindex": 1, "values": [2,3,4,5,6,7,8,9,10,11,12,13,14], "labels": false, "title": null, "tickSize": {"condition": {"test": "datum.value % 2 === 0", "value": -7}, "value": -4}}},
           "y": {"field": "v", "type": "quantitative", "scale": {"domain": [-5, 115], "nice": false, "zero": false},
                 "axis": {"orient": "left", "zindex": 1, "values": [0,10,20,30,40,50,60,70,80,90,100,110], "labelExpr": "datum.value % 20 === 0 && datum.value <= 100 ? datum.label : ''", "tickSize": {"condition": {"test": "datum.value % 20 === 0", "value": -7}, "value": -4}, "labelPadding": 10, "labelFontSize": 22, "title": "Absorption (%)", "titleFontSize": 28, "titlePadding": 5}},
           "color": {"field": "s", "type": "nominal", "scale": {"domain": ["436.6/224.1/527", "500/300/500", "500/50/500", "50/300/500", "500/300/50"], "range": ["#0000ff", "#ff80ff", "#00ffff", "#007a00", "#800080"]}, "legend": null},
           "strokeWidth": {"condition": {"test": "datum.s === '436.6/224.1/527'", "value": 4.5}, "value": 2.5}}},
        {"data": {"name": "tbl"}, "mark": {"type": "rect", "fill": "white", "stroke": "#333333", "strokeWidth": 1.3},
         "encoding": {
           "x": {"field": "x1", "type": "quantitative", "axis": null}, "x2": {"field": "x2"},
           "y": {"field": "y1", "type": "quantitative", "axis": null}, "y2": {"field": "y2"}}},
        {"data": {"name": "tbl"}, "transform": [{"filter": "datum.k === 'h'"}, {"calculate": "(datum.x1 + datum.x2) / 2", "as": "cx"}, {"calculate": "(datum.y1 + datum.y2) / 2", "as": "cy"}],
         "mark": {"type": "text", "fontSize": 14, "fontWeight": "bold", "align": "center", "baseline": "middle", "color": "black"},
         "encoding": {"x": {"field": "cx", "type": "quantitative", "axis": null}, "y": {"field": "cy", "type": "quantitative", "axis": null}, "text": {"field": "t"}}},
        {"data": {"name": "tbl"}, "transform": [{"filter": "datum.k === 'v'"}, {"calculate": "(datum.x1 + datum.x2) / 2", "as": "cx"}, {"calculate": "(datum.y1 + datum.y2) / 2", "as": "cy"}],
         "mark": {"type": "text", "fontSize": 14, "align": "center", "baseline": "middle", "color": "black"},
         "encoding": {"x": {"field": "cx", "type": "quantitative", "axis": null}, "y": {"field": "cy", "type": "quantitative", "axis": null}, "text": {"field": "t"}}},
        {"data": {"name": "tbl"}, "transform": [{"filter": "datum.k === 'sym'"}, {"calculate": "(datum.x1 + datum.x2) / 2 - 0.46", "as": "a1"}, {"calculate": "(datum.x1 + datum.x2) / 2 + 0.46", "as": "a2"}, {"calculate": "(datum.y1 + datum.y2) / 2", "as": "cy"}],
         "mark": {"type": "rule"},
         "encoding": {"x": {"field": "a1", "type": "quantitative", "axis": null}, "x2": {"field": "a2"}, "y": {"field": "cy", "type": "quantitative", "axis": null},
           "color": {"field": "s", "type": "nominal", "legend": null},
           "strokeWidth": {"condition": {"test": "datum.s === '436.6/224.1/527'", "value": 4.5}, "value": 3}}},
        {"data": {"values": [{}]}, "mark": {"type": "text", "text": "(c)", "fontSize": 26, "fontWeight": "bold", "align": "center", "baseline": "middle", "color": "black"},
         "encoding": {
           "x": {"datum": 2.87, "type": "quantitative", "axis": null},
           "y": {"datum": 104, "type": "quantitative", "axis": {"orient": "right", "zindex": 1, "values": [0,10,20,30,40,50,60,70,80,90,100,110], "labels": false, "title": null, "tickSize": {"condition": {"test": "datum.value % 20 === 0", "value": -7}, "value": -4}}}}}
      ]
    }
  ]
}
